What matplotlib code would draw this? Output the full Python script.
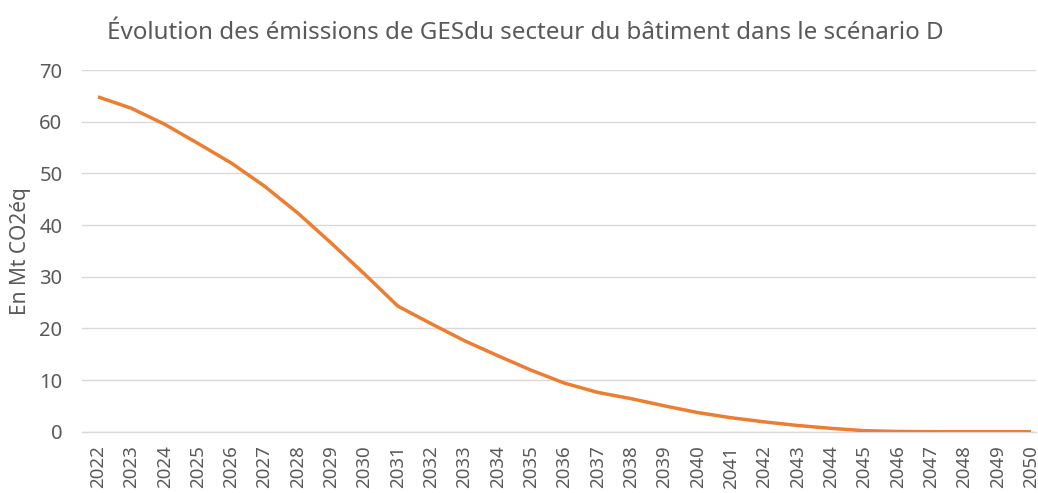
import matplotlib
matplotlib.use("Agg")
import matplotlib.pyplot as plt

years = [str(y) for y in range(2022, 2051)]
emissions = [64.8, 62.6, 59.5, 55.8, 52.0, 47.5, 42.3, 36.5, 30.5, 24.3,
             20.9, 17.6, 14.7, 11.9, 9.4, 7.6, 6.4, 5.0, 3.7, 2.7,
             1.9, 1.2, 0.65, 0.2, 0.05, 0.0, 0.0, 0.0, 0.0]
title = "Évolution des émissions de GESdu secteur du bâtiment dans le scénario D"
ylabel = "En Mt CO2éq"

plt.rcParams['font.family'] = ['Noto Sans', 'DejaVu Sans']
grey = '#595959'

fig = plt.figure(figsize=(10.38, 4.93), dpi=100)
ax_l, ax_r, ax_b, ax_t = 82, 1036, 431.7, 70
ax = fig.add_axes([ax_l/1038, 1-ax_b/493, (ax_r-ax_l)/1038, (ax_b-ax_t)/493])

x = list(range(len(years)))
ax.plot(x, emissions, color='#ED7D31', linewidth=2.5, solid_capstyle='butt', zorder=3)

ax.set_xlim(-0.48, 28.15)
ax.set_ylim(0, 70)
ax.set_yticks(range(0, 71, 10))
ax.set_xticks(x)
ax.set_xticklabels(years, rotation=90)
ax.grid(axis='y', color='#D9D9D9', linewidth=1)
ax.set_axisbelow(True)
for s in ['top', 'right', 'left']:
    ax.spines[s].set_visible(False)
ax.spines['bottom'].set_color('#D9D9D9')
ax.spines['bottom'].set_linewidth(1)
ax.tick_params(axis='both', length=0, colors=grey)
ax.tick_params(axis='y', labelsize=14.5, pad=14)
ax.tick_params(axis='x', labelsize=13.5, pad=10)
ax.set_ylabel(ylabel, color=grey, fontsize=15)
ax.yaxis.set_label_coords((21-ax_l)/(ax_r-ax_l), 0.5)
ax.yaxis.label.set_va('center')
fig.text(107/1038, 1-33/493, title, color=grey, fontsize=17.4, ha='left', va='center')

fig.savefig('out.png', dpi=100)
